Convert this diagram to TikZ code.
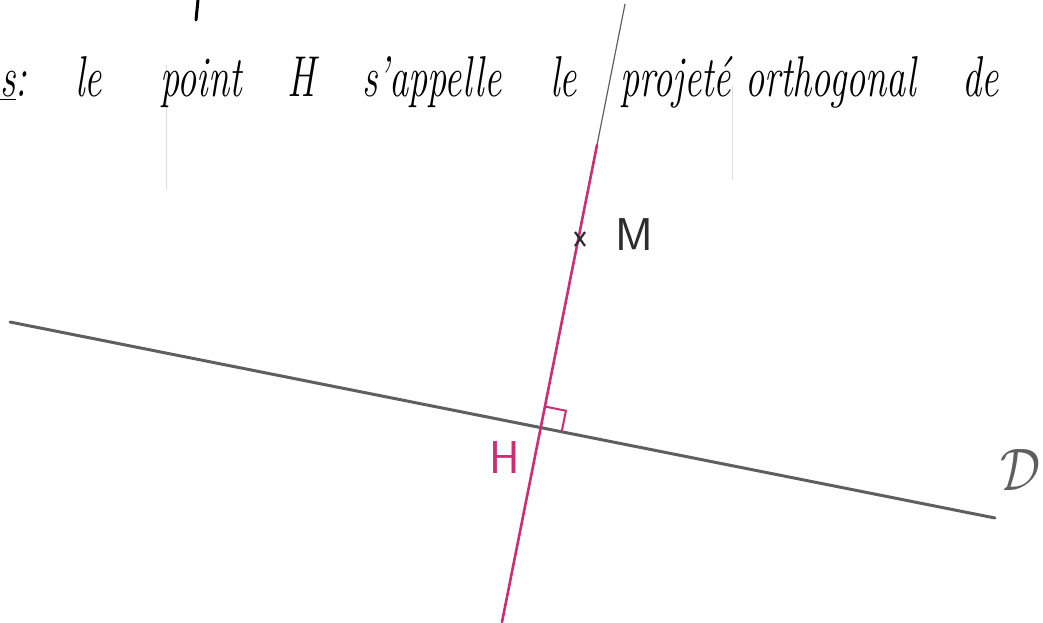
\documentclass[tikz,border=0pt]{standalone}
\usetikzlibrary{calc}
\usepackage{graphicx}
\definecolor{pinkline}{RGB}{205,45,115}
\definecolor{graylin}{RGB}{95,95,95}
\definecolor{inkgray}{RGB}{45,45,45}
\newcommand\hwword[1]{\scalebox{0.8}[1.2]{\fontsize{48}{56}\selectfont\itshape #1}}
\begin{document}
\begin{tikzpicture}[x=1pt,y=-1pt,
  word/.style={anchor=base west, inner sep=0pt},
  lbl/.style={inner sep=0pt, font=\fontsize{46}{52}\selectfont\sffamily},
  rose/.style={pinkline, line width=2.6pt, line cap=round},
  thinline/.style={graylin, line width=1.2pt},
  dline/.style={graylin, line width=3pt, line cap=round},
  faint/.style={gray!25, line width=0.8pt}]
\useasboundingbox (0,0) rectangle (1043,623);
\clip (0,0) rectangle (1043,623);
% scan artefacts
\draw[line width=3pt, line cap=round] (198,0) -- (196,20);
\draw[faint] (166,65) -- (166,190);
\draw[faint] (732,85) -- (732,180);
% text line
\node[word] (w0) at (0,97) {\hwword{\underline{s}:}};
\node[word] (w1) at (75,97) {\hwword{le}};
\node[word] (w2) at (160,97) {\hwword{point}};
\node[word] (w3) at (287,97) {\hwword{H}};
\node[word] (w4) at (362,97) {\hwword{s'appelle}};
\node[word] (w5) at (550,97) {\hwword{le}};
\node[word] (w6) at (620,97) {\hwword{projeté}};
\node[word] (w7) at (745,97) {\hwword{orthogonal}};
\node[word] (w8) at (962,97) {\hwword{de}};
% geometry
\coordinate (H) at (540,428);
\coordinate (Dstart) at (10,322);
\coordinate (Dend) at (995,518);
\coordinate (Ptop) at (625,4);
\coordinate (Pmid) at (597,145);
\coordinate (Pbot) at (502,622);
\draw[dline] (Dstart) -- (Dend);
\draw[thinline] (Ptop) -- (Pmid);
\draw[rose] (Pmid) -- (Pbot);
% right angle mark
\coordinate (ra1) at ($(H)!22pt!(Pmid)$);
\coordinate (ra3) at ($(H)!22pt!(Dend)$);
\coordinate (ra2) at ($(ra1)+(ra3)-(H)$);
\draw[pinkline, line width=2pt] (ra1) -- (ra2) -- (ra3);
% point M
\coordinate (M) at (580,239);
\draw[inkgray, line width=2.2pt] ($(M)+(-5,-7)$) -- ($(M)+(5,7)$);
\draw[inkgray, line width=2.2pt] ($(M)+(-5,7)$) -- ($(M)+(5,-7)$);
\node[lbl, text=inkgray] (Mlab) at (634,235) {M};
\node[lbl, text=pinkline] (Hlab) at (505,458) {H};
\node[inner sep=0pt, text=graylin] (Dlab) at (1020,470) {\scalebox{5}[6]{$\mathcal{D}$}};
\end{tikzpicture}
\end{document}
